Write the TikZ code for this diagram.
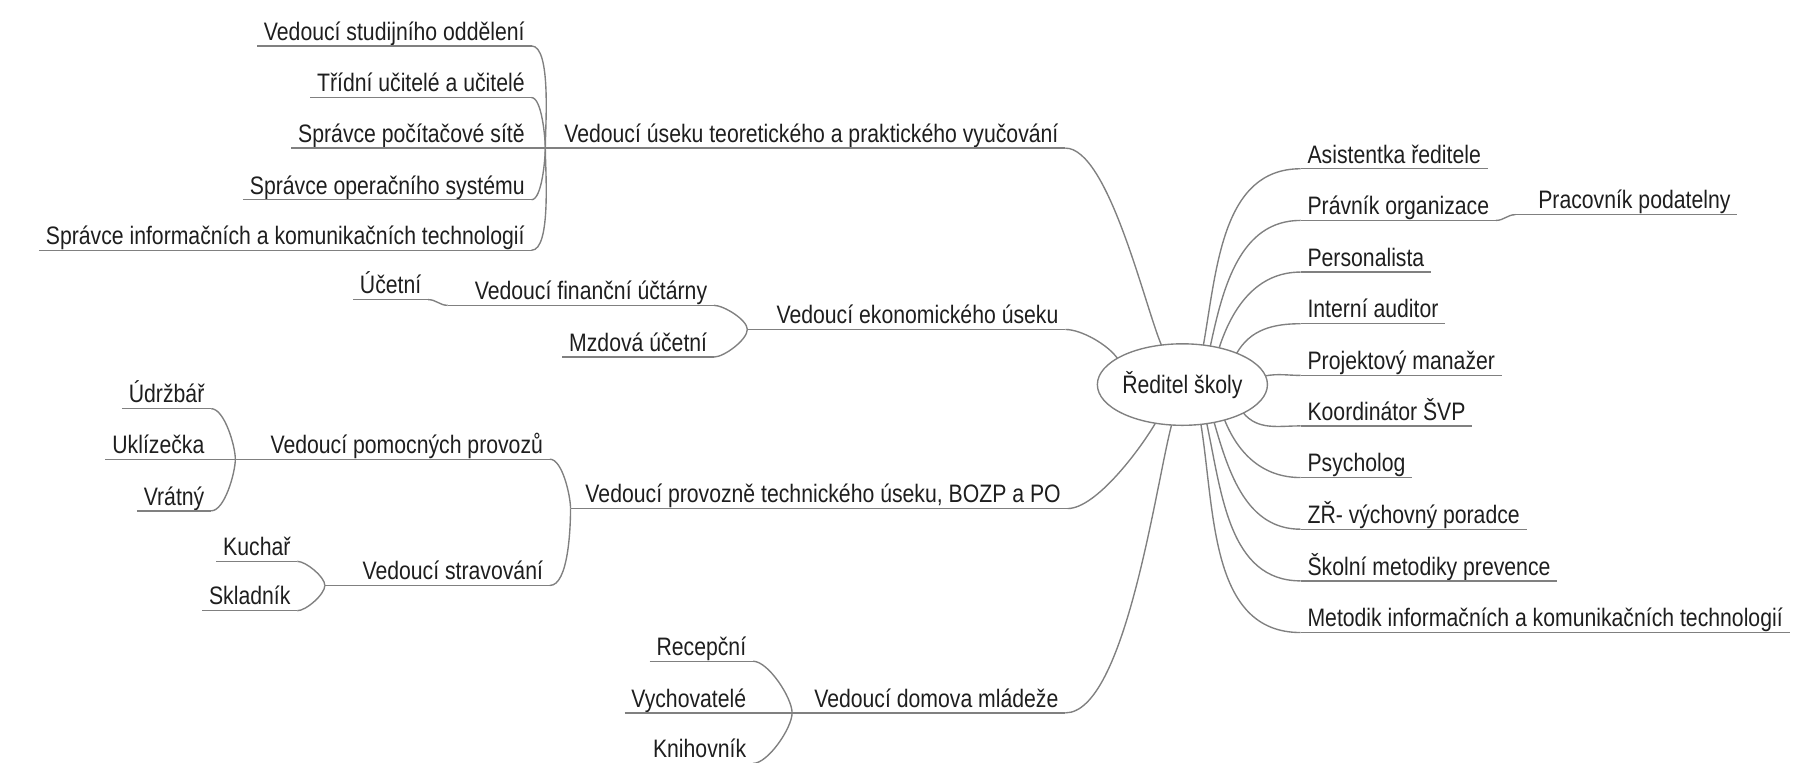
\documentclass[tikz,border=0pt]{standalone}
\usepackage{fontspec}
\setmainfont{Liberation Sans}[FakeStretch=0.84]
\usetikzlibrary{shapes.geometric}
\definecolor{linkgray}{HTML}{808080}
\definecolor{inkgray}{HTML}{1E1E1E}
\begin{document}
\begin{tikzpicture}[x=1pt,y=1pt,
  lbl/.style={font=\fontsize{22}{25}\selectfont, text=inkgray, inner xsep=6pt,
              inner ysep=5pt, text height=16pt, text depth=0pt, outer sep=0pt},
  rl/.style={lbl, anchor=south west},
  ll/.style={lbl, anchor=south east},
  root/.style={lbl, ellipse, draw=linkgray, line width=1.2pt, inner sep=0pt,
               minimum width=136pt, minimum height=71pt, anchor=center},
  link/.style={draw=linkgray, line width=1.2pt},
]
\useasboundingbox (0,0) rectangle (1568,-664);

% root
\node[root] (r) at (1030,-335) {Ředitel školy};

% right-hand branches
\node[rl] (as) at (1133,-147) {Asistentka ředitele};
\node[rl] (pr) at (1133,-192) {Právník organizace};
\node[rl] (pe) at (1133,-237) {Personalista};
\node[rl] (ia) at (1133,-282) {Interní auditor};
\node[rl] (pm) at (1133,-327) {Projektový manažer};
\node[rl] (ko) at (1133,-371) {Koordinátor ŠVP};
\node[rl] (ps) at (1133,-416) {Psycholog};
\node[rl] (zr) at (1133,-461) {ZŘ- výchovný poradce};
\node[rl] (sm) at (1133,-506) {Školní metodiky prevence};
\node[rl] (mi) at (1133,-551) {Metodik informačních a komunikačních technologií};
\coordinate (jpr) at (1320,-187);
\node[rl] (pod) at (1334,-187) {Pracovník podatelny};

\foreach \n in {as,pr,pe,ia,pm,ko,ps,zr,sm,mi}
  \draw[link] (\n.south west) -- (\n.south east);
\draw[link] (jpr) -- (pod.south east);

\draw[link] (r.62)  to[out=80,in=180]  (as.south west);
\draw[link] (r.54)  to[out=78,in=180]  (pr.south west);
\draw[link] (r.45)  to[out=72,in=180]  (pe.south west);
\draw[link] (r.30)  to[out=60,in=180]  (ia.south west);
\draw[link] (r.6)   to[out=10,in=180]  (pm.south west);
\draw[link] (r.-25) to[out=-50,in=180] (ko.south west);
\draw[link] (r.-40) to[out=-68,in=180] (ps.south west);
\draw[link] (r.-50) to[out=-74,in=180] (zr.south west);
\draw[link] (r.-58) to[out=-78,in=180] (sm.south west);
\draw[link] (r.-65) to[out=-81,in=180] (mi.south west);
\draw[link] (pr.south east) to[out=0,in=180] (jpr);

% left: teaching section
\node[ll] (A) at (928,-129) {Vedoucí úseku teoretického a praktického vyučování};
\coordinate (jA) at (475,-129);
\node[ll] (a1) at (463,-40)  {Vedoucí studijního oddělení};
\node[ll] (a2) at (463,-85)  {Třídní učitelé a učitelé};
\node[ll] (a3) at (463,-129) {Správce počítačové sítě};
\node[ll] (a4) at (463,-174) {Správce operačního systému};
\node[ll] (a5) at (463,-218) {Správce informačních a komunikačních technologií};

% left: economic section
\node[ll] (B) at (928,-287) {Vedoucí ekonomického úseku};
\coordinate (jB) at (651,-287);
\node[ll] (b1) at (622,-266) {Vedoucí finanční účtárny};
\node[ll] (b2) at (622,-311) {Mzdová účetní};
\coordinate (jB1) at (390,-266);
\node[ll] (b11) at (373,-261) {Účetní};

% left: operations section
\node[ll] (C) at (930,-443) {Vedoucí provozně technického úseku, BOZP a PO};
\coordinate (jC) at (497,-443);
\node[ll] (c1) at (479,-400) {Vedoucí pomocných provozů};
\coordinate (jC1) at (205,-400);
\node[ll] (c2) at (479,-510) {Vedoucí stravování};
\coordinate (jC2) at (283,-510);
\node[ll] (c11) at (184,-356) {Údržbář};
\node[ll] (c12) at (184,-400) {Uklízečka};
\node[ll] (c13) at (184,-445) {Vrátný};
\node[ll] (c21) at (259,-489) {Kuchař};
\node[ll] (c22) at (259,-532) {Skladník};

% left: dormitory
\node[ll] (D) at (928,-621) {Vedoucí domova mládeže};
\coordinate (jD) at (690,-621);
\node[ll] (d1) at (656,-576) {Recepční};
\node[ll] (d2) at (656,-621) {Vychovatelé};
\node[ll] (d3) at (656,-665) {Knihovník};

% underlines
\foreach \n in {a1,a2,a3,a4,a5,b2,b11,c11,c12,c13,c21,c22,d1,d2,d3}
  \draw[link] (\n.south west) -- (\n.south east);
\draw[link] (jA) -- (A.south east);
\draw[link] (jB) -- (B.south east);
\draw[link] (jB1) -- (b1.south east);
\draw[link] (jC) -- (C.south east);
\draw[link] (jC1) -- (c1.south east);
\draw[link] (jC2) -- (c2.south east);
\draw[link] (jD) -- (D.south east);

% root to left branches
\draw[link] (r.118) to[out=113,in=0,looseness=.5] (A.south east);
\draw[link] (r.158) to[out=125,in=0,looseness=.7] (B.south east);
\draw[link] (r.235) to[out=240,in=0,looseness=.6] (C.south east);
\draw[link] (r.255) to[out=255,in=0,looseness=.5] (D.south east);

% braces
\draw[link] (a1.south east) to[out=0,in=90,looseness=.5]  (jA);
\draw[link] (a2.south east) to[out=0,in=90,looseness=.5]  (jA);
\draw[link] (a3.south east) -- (jA);
\draw[link] (a4.south east) to[out=0,in=-90,looseness=.5] (jA);
\draw[link] (a5.south east) to[out=0,in=-90,looseness=.5] (jA);

\draw[link] (b1.south east) to[out=0,in=90,looseness=.6]  (jB);
\draw[link] (b2.south east) to[out=0,in=-90,looseness=.6] (jB);
\draw[link] (b11.south east) to[out=0,in=180] (jB1);

\draw[link] (c1.south east) to[out=0,in=90,looseness=.6]  (jC);
\draw[link] (c2.south east) to[out=0,in=-90,looseness=.6] (jC);
\draw[link] (c11.south east) to[out=0,in=90,looseness=.6]  (jC1);
\draw[link] (c12.south east) -- (jC1);
\draw[link] (c13.south east) to[out=0,in=-90,looseness=.6] (jC1);
\draw[link] (c21.south east) to[out=0,in=90,looseness=.6]  (jC2);
\draw[link] (c22.south east) to[out=0,in=-90,looseness=.6] (jC2);

\draw[link] (d1.south east) to[out=0,in=90,looseness=.6]  (jD);
\draw[link] (d2.south east) -- (jD);
\draw[link] (d3.south east) to[out=0,in=-90,looseness=.6] (jD);
\end{tikzpicture}
\end{document}
